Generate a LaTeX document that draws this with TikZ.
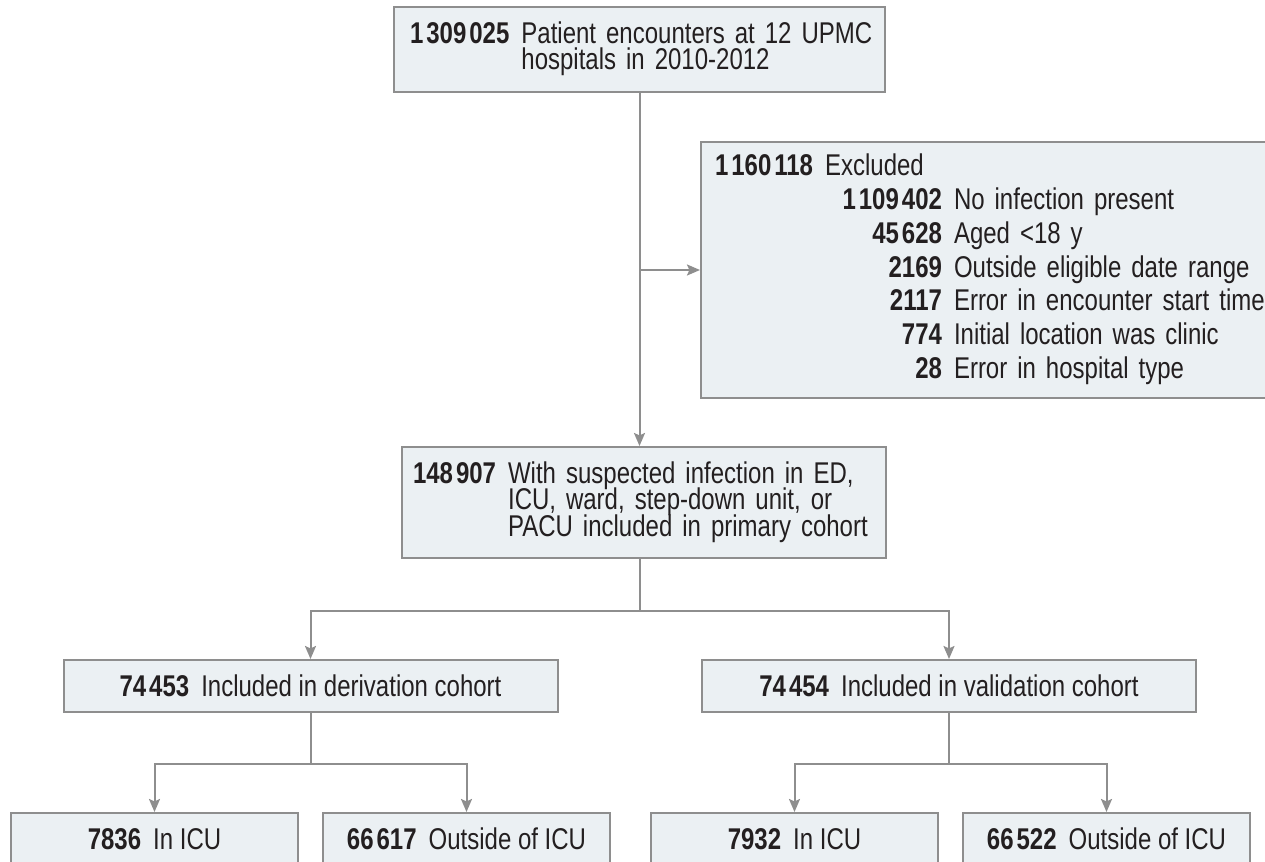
\documentclass[tikz,border=0pt]{standalone}
\usepackage{fontspec}
\setmainfont[FakeStretch=0.8]{Liberation Sans}
\usepackage{array}
\usepackage{xcolor}
\usepackage{tikz}
\usetikzlibrary{arrows.meta,positioning}
\definecolor{boxfill}{HTML}{EBF0F3}
\definecolor{boxline}{HTML}{8E8E8E}
\definecolor{ink}{HTML}{231F20}
\newcommand{\tsp}{\hspace{0.1em}}
\newcommand{\nb}[1]{\textbf{#1}}

\begin{document}
\begin{tikzpicture}[x=0.5pt, y=-0.5pt,
  font=\fontsize{15}{12.5}\selectfont, text=ink,
  box/.style={draw=boxline, fill=boxfill, line width=1pt, inner sep=0pt},
  wide/.style={box, anchor=north west, align=left},
  cohort/.style={box, anchor=north west, minimum width=247pt, minimum height=26pt},
  loc/.style={box, anchor=north west, minimum width=143.5pt, minimum height=26pt},
  arr/.style={-{Stealth[length=6.5pt,width=5.5pt,inset=1.2pt]}, draw=boxline, line width=1pt},
  line/.style={draw=boxline, line width=1pt}]

\useasboundingbox (0,0) rectangle (1265,862);
\clip (0,0) rectangle (1265,862);

\node[wide, minimum width=245.5pt, minimum height=42.5pt, text width=229.5pt] (enc) at (393,6)
  {\begin{tabular}{@{}l@{\hspace{6pt}}l@{}}
   \nb{1\tsp309\tsp025} & Patient encounters at 12 UPMC\\[-1.4pt]
   & hospitals in 2010-2012
   \end{tabular}};

\node[wide, minimum width=300pt, minimum height=128pt, text width=286pt] (excl) at (700,141)
  {\begin{tabular}{@{}>{\raggedleft\arraybackslash}p{113.5pt}@{\hspace{6pt}}l@{}}
   \multicolumn{2}{@{}l@{}}{\nb{1\tsp160\tsp118}\hspace{6pt}Excluded}\\[2.3pt]
   \nb{1\tsp109\tsp402} & No infection present\\[2.3pt]
   \nb{45\tsp628} & Aged <18 y\\[2.3pt]
   \nb{2169} & Outside eligible date range\\[2.3pt]
   \nb{2117} & Error in encounter start time\\[2.3pt]
   \nb{774} & Initial location was clinic\\[2.3pt]
   \nb{28} & Error in hospital type
   \end{tabular}};

\node[wide, minimum width=242pt, minimum height=55.5pt, text width=231pt] (incl) at (401,446)
  {\begin{tabular}{@{}l@{\hspace{6pt}}l@{}}
   \nb{148\tsp907} & With suspected infection in ED,\\[-1.4pt]
   & ICU, ward, step-down unit, or\\[-1.4pt]
   & PACU included in primary cohort
   \end{tabular}};

\node[cohort] (deriv) at (62.5,659) {\nb{74\tsp453}\hspace{6pt}Included in derivation cohort};
\node[cohort] (valid) at (701,659) {\nb{74\tsp454}\hspace{6pt}Included in validation cohort};

\node[loc] (icua) at (10,812) {\nb{7836}\hspace{6pt}In ICU};
\node[loc] (outa) at (322,812) {\nb{66\tsp617}\hspace{6pt}Outside of ICU};
\node[loc] (icub) at (650,812) {\nb{7932}\hspace{6pt}In ICU};
\node[loc] (outb) at (962,812) {\nb{66\tsp522}\hspace{6pt}Outside of ICU};

\draw[arr] (enc.south) -- (enc.south |- incl.north);
\draw[arr] (enc.south |- excl.west) -- (excl.west);

\draw[line] (enc.south |- incl.south) -- ++(0,52) coordinate (split);
\draw[arr] (split) -| (deriv.north);
\draw[arr] (split) -| (valid.north);

\draw[line] (deriv.south) -- ++(0,51) coordinate (dsplit);
\draw[arr] (dsplit) -| (icua.north);
\draw[arr] (dsplit) -| (outa.north);
\draw[line] (valid.south) -- ++(0,51) coordinate (vsplit);
\draw[arr] (vsplit) -| (icub.north);
\draw[arr] (vsplit) -| (outb.north);
\end{tikzpicture}
\end{document}
